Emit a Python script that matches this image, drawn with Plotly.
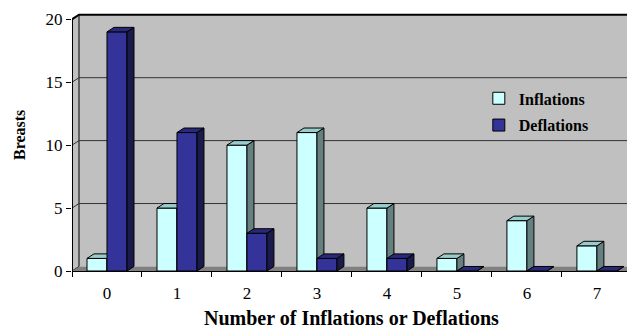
import plotly.graph_objects as go

# Counts of breasts by number of inflations / deflations
categories = [0, 1, 2, 3, 4, 5, 6, 7]
inflations = [1, 5, 10, 11, 5, 1, 4, 2]
deflations = [19, 11, 3, 1, 1, 0, 0, 0]
y_ticks = [0, 5, 10, 15, 20]

# pseudo-3D geometry (in axis units)
BAR_W = 0.2857
DX, DY = 0.1, 0.36
X_LO, X_HI = -0.5, 7.43
Y_TOP = 20

FONT = "Liberation Serif, Times New Roman, serif"

series = [
    dict(name="Inflations", values=inflations, offset=-BAR_W,
         front="#CCFFFF", side="#668080", top="#99CCCC", yaxis="y"),
    dict(name="Deflations", values=deflations, offset=0.0,
         front="#333399", side="#1A1A4D", top="#29297A", yaxis="y2"),
]

fig = go.Figure()

for s in series:
    # front faces
    fig.add_trace(go.Bar(
        x=categories, y=s["values"], width=BAR_W, offset=s["offset"],
        marker=dict(color=s["front"], line=dict(color="black", width=1)),
        name=f"<b>{s['name']}</b>", legendgroup=s["name"],
        yaxis=s["yaxis"], hoverinfo="skip",
    ))
    # side and top faces
    for c, v in zip(categories, s["values"]):
        x0 = c + s["offset"]
        x1 = x0 + BAR_W
        side_x = [x1, x1 + DX, x1 + DX, x1, x1]
        side_y = [0, DY, v + DY, v, 0]
        top_x = [x0, x1, x1 + DX, x0 + DX, x0]
        top_y = [v, v, v + DY, v + DY, v]
        for fx, fy, col in ((side_x, side_y, s["side"]), (top_x, top_y, s["top"])):
            fig.add_trace(go.Scatter(
                x=fx, y=fy, mode="lines", fill="toself", fillcolor=col,
                line=dict(color="black", width=1), showlegend=False,
                legendgroup=s["name"], hoverinfo="skip", yaxis=s["yaxis"],
            ))

shapes = []
# back wall
shapes.append(dict(type="path", xref="x", yref="y", layer="below",
                   path=f"M{X_LO+DX},{DY} L{X_HI+1},{DY} L{X_HI+1},{Y_TOP+DY} L{X_LO+DX},{Y_TOP+DY} Z",
                   fillcolor="#C0C0C0", line=dict(width=0)))
# left side wall
shapes.append(dict(type="path", xref="x", yref="y", layer="below",
                   path=f"M{X_LO},0 L{X_LO+DX},{DY} L{X_LO+DX},{Y_TOP+DY} L{X_LO},{Y_TOP} Z",
                   fillcolor="#C0C0C0", line=dict(color="black", width=1)))
# floor
shapes.append(dict(type="path", xref="x", yref="y", layer="below",
                   path=f"M{X_LO},0 L{X_HI+1},0 L{X_HI+1+DX},{DY} L{X_LO+DX},{DY} Z",
                   fillcolor="#808080", line=dict(width=0)))
# gridlines on side and back walls
for v in y_ticks[1:]:
    shapes.append(dict(type="path", xref="x", yref="y", layer="below",
                       path=f"M{X_LO},{v} L{X_LO+DX},{v+DY} L{X_HI+1},{v+DY}",
                       line=dict(color="black" if v == Y_TOP else "#333333",
                                 width=2 if v == Y_TOP else 1)))
# front value axis line
shapes.append(dict(type="line", xref="x", yref="y", layer="below",
                   x0=X_LO, x1=X_LO, y0=0, y1=Y_TOP,
                   line=dict(color="black", width=2)))

fig.update_layout(
    width=627, height=329,
    margin=dict(l=72, r=0, t=13, b=58),
    paper_bgcolor="white", plot_bgcolor="white",
    font=dict(family=FONT, color="black"),
    barmode="overlay",
    shapes=shapes,
    showlegend=True,
    legend=dict(x=0.733, y=0.735, xanchor="left", yanchor="top",
                bgcolor="rgba(0,0,0,0)", font=dict(size=16, family=FONT),
                traceorder="grouped", tracegroupgap=3),
    xaxis=dict(range=[X_LO, X_HI], tickvals=categories,
               ticktext=[str(c) for c in categories], ticks="",
               tickfont=dict(size=17, family=FONT), showgrid=False,
               zeroline=False, showline=True, linecolor="black", linewidth=1,
               minor=dict(tickmode="array",
                          tickvals=[c - 0.5 for c in categories] + [7.5],
                          ticks="outside", ticklen=5, tickcolor="black",
                          showgrid=False),
               ticklabelstandoff=7, fixedrange=True),
    yaxis=dict(range=[0, 20.5], tickvals=y_ticks, ticks="outside",
               ticklen=5, tickcolor="black",
               tickfont=dict(size=17, family=FONT),
               showgrid=False, zeroline=False, showline=False,
               fixedrange=True),
    yaxis2=dict(overlaying="y", matches="y", visible=False, range=[0, 20.5]),
    annotations=[
        dict(text="<b>Number of Inflations or Deflations</b>", xref="paper",
             yref="paper", x=0.503, y=-0.182, xanchor="center", yanchor="middle",
             showarrow=False, font=dict(size=20, family=FONT)),
        dict(text="<b>Breasts</b>", xref="paper", yref="paper", x=-0.0955,
             y=0.527, xanchor="center", yanchor="middle", textangle=-90,
             showarrow=False, font=dict(size=16, family=FONT)),
    ],
)

fig.write_html("out.html")
